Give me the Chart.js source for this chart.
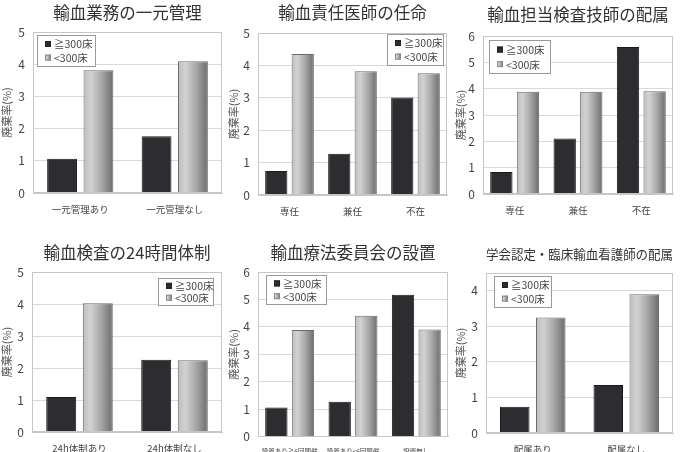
<!DOCTYPE html>
<html>
<head>
<meta charset="utf-8">
<script src="https://cdn.jsdelivr.net/npm/chart.js@4/dist/chart.umd.min.js"></script>
<style>
  html, body { margin: 0; padding: 0; background: #fff; }
  #wrap { position: relative; width: 681px; height: 452px; overflow: hidden; }
  .panel { position: absolute; }
</style>
</head>
<body>
<div id="wrap"></div>
<script>
// data
const seriesNames = ['≧300床', '<300床'];

const titles = [
    '輸血業務の一元管理',
    '輸血責任医師の任命',
    '輸血担当検査技師の配属',
    '輸血検査の24時間体制',
    '輸血療法委員会の設置',
    '学会認定・臨床輸血看護師の配属'
];

const labels1 = ['一元管理あり', '一元管理なし'];
const large1 = [1.06, 1.76];
const small1 = [3.81, 4.09];

const labels2 = ['専任', '兼任', '不在'];
const large2 = [0.74, 1.27, 3.01];
const small2 = [4.35, 3.82, 3.76];

const labels3 = ['専任', '兼任', '不在'];
const large3 = [0.84, 2.11, 5.58];
const small3 = [3.88, 3.88, 3.9];

const labels4 = ['24h体制あり', '24h体制なし'];
const large4 = [1.09, 2.26];
const small4 = [4.02, 2.24];

const labels5 = ['設置あり≧6回開催', '設置あり<6回開催', '設置無し'];
const large5 = [1.07, 1.28, 5.17];
const small5 = [3.89, 4.41, 3.91];

const labels6 = ['配属あり', '配属なし'];
const large6 = [0.74, 1.35];
const small6 = [3.25, 3.9];

const yMax = [5, 5, 6, 5, 6, 4.5];

// layout of each panel (page pixels)
const FONT = "'Noto Sans CJK JP', 'Noto Sans', sans-serif";
const panels = [
    { box: [0, 0, 227, 225],   plot: [33, 222, 32, 193],  titleY: 13, titleSize: 16.5, xFont: 9.5, legend: { side: 'left', dx: 4, dy: 3, w: 58, h: 31 } },
    { box: [227, 0, 227, 225], plot: [258, 447, 33, 195], titleY: 13, titleSize: 16.5, xFont: 9.5, legend: { side: 'right', dx: 4, dy: 1, w: 56, h: 31 } },
    { box: [454, 0, 227, 225], plot: [483, 673, 36, 194], titleY: 15, titleSize: 16.5, xFont: 9.5, legend: { side: 'left', dx: 6, dy: 4, w: 61, h: 33 } },
    { box: [0, 225, 227, 227], plot: [32, 222, 272, 432], titleY: 253, titleSize: 16.5, xFont: 9.5, legend: { side: 'right', dx: 9, dy: 6, w: 55, h: 27 } },
    { box: [227, 225, 227, 227], plot: [258, 448, 272, 437], titleY: 253, titleSize: 16.5, xFont: 6.5, legend: { side: 'left', dx: 8, dy: 3, w: 60, h: 29 } },
    { box: [454, 225, 227, 227], plot: [486, 673, 273, 433], titleY: 254, titleSize: 13, xFont: 9.5, legend: { side: 'left', dx: 8, dy: 3, w: 57, h: 31 } }
];

const allLabels = [labels1, labels2, labels3, labels4, labels5, labels6];
const allLarge = [large1, large2, large3, large4, large5, large6];
const allSmall = [small1, small2, small3, small4, small5, small6];

const DARK = '#2c2c31';

function grayGradient(ctx, x0, x1) {
    const g = ctx.createLinearGradient(x0, 0, x1, 0);
    g.addColorStop(0, '#bdbdbd');
    g.addColorStop(0.25, '#d2d2d2');
    g.addColorStop(0.6, '#a8a8a8');
    g.addColorStop(1, '#6c6c6c');
    return g;
}

// paint the gradient on the light bars
const gradientBars = {
    id: 'gradientBars',
    beforeDatasetDraw(chart, args) {
        if (args.index !== 1) return;
        args.meta.data.forEach(el => {
            const half = el.width / 2;
            el.options.backgroundColor = grayGradient(chart.ctx, el.x - half, el.x + half);
        });
    }
};

// boxed legend inside the plot area
const boxLegend = {
    id: 'boxLegend',
    afterDraw(chart, args, opts) {
        const ctx = chart.ctx;
        const area = chart.chartArea;
        const x = opts.side === 'left' ? area.left + opts.dx : area.right - opts.dx - opts.w;
        const y = area.top + opts.dy;
        ctx.save();
        ctx.fillStyle = '#fff';
        ctx.fillRect(x, y, opts.w, opts.h);
        ctx.strokeStyle = '#9a9a9a';
        ctx.lineWidth = 1;
        ctx.strokeRect(Math.round(x) + 0.5, Math.round(y) + 0.5, opts.w, opts.h);
        ctx.font = '10.5px ' + FONT;
        ctx.textBaseline = 'middle';
        const rows = [y + opts.h * 0.29, y + opts.h * 0.73];
        rows.forEach((cy, i) => {
            const mx = x + 8;
            if (i === 0) {
                ctx.fillStyle = DARK;
            } else {
                ctx.fillStyle = grayGradient(ctx, mx, mx + 6);
            }
            ctx.fillRect(mx, cy - 3, 6, 6);
            ctx.strokeStyle = i === 0 ? '#222' : '#888';
            ctx.strokeRect(mx + 0.5, cy - 3 + 0.5, 5, 5);
            ctx.fillStyle = '#444';
            ctx.fillText(chart.data.datasets[i].label, mx + 9, cy + 0.5);
        });
        ctx.restore();
    }
};

const wrap = document.getElementById('wrap');

panels.forEach((p, i) => {
    const [bx, by, bw, bh] = p.box;
    const [L, R, T, B] = p.plot;
    const div = document.createElement('div');
    div.className = 'panel';
    div.style.left = bx + 'px';
    div.style.top = by + 'px';
    div.style.width = bw + 'px';
    div.style.height = bh + 'px';
    const canvas = document.createElement('canvas');
    div.appendChild(canvas);
    wrap.appendChild(div);

    const xAxisH = 26;
    const titleTop = Math.max(0, p.titleY - by - p.titleSize * 0.6);
    const titleBottom = (T - by) - titleTop - p.titleSize * 1.2;
    const threeCats = allLabels[i].length === 3;

    new Chart(canvas, {
        type: 'bar',
        data: {
            labels: allLabels[i],
            datasets: [
                {
                    label: seriesNames[0],
                    data: allLarge[i],
                    backgroundColor: DARK,
                    borderColor: '#1a1a1a',
                    borderWidth: 1
                },
                {
                    label: seriesNames[1],
                    data: allSmall[i],
                    backgroundColor: () => '#aaaaaa',
                    borderColor: '#6a6a6a',
                    borderWidth: 1
                }
            ]
        },
        options: {
            responsive: true,
            maintainAspectRatio: false,
            animation: false,
            devicePixelRatio: 1,
            categoryPercentage: threeCats ? 0.84 : 0.77,
            barPercentage: threeCats ? 0.84 : 0.82,
            layout: {
                padding: { left: 0, top: 0, right: bx + bw - R, bottom: by + bh - B - xAxisH }
            },
            plugins: {
                legend: { display: false },
                tooltip: { enabled: false },
                title: {
                    display: true,
                    fullSize: false,
                    text: titles[i],
                    color: '#333',
                    font: { family: FONT, size: p.titleSize, weight: 'normal' },
                    padding: { top: titleTop, bottom: titleBottom }
                },
                boxLegend: p.legend
            },
            scales: {
                x: {
                    grid: { display: false, drawTicks: false },
                    border: { display: true, color: '#c6c6c6' },
                    ticks: {
                        color: '#444',
                        padding: 11,
                        maxRotation: 0,
                        autoSkip: false,
                        font: { family: FONT, size: p.xFont }
                    },
                    afterFit: s => { s.height = xAxisH; }
                },
                y: {
                    min: 0,
                    max: yMax[i],
                    grid: { color: '#d9d9d9', drawTicks: false },
                    border: { display: true, color: '#c6c6c6' },
                    ticks: {
                        stepSize: 1,
                        color: '#444',
                        padding: 8,
                        font: { family: FONT, size: 12 },
                        callback: v => (v % 1 === 0 ? v : '')
                    },
                    title: {
                        display: true,
                        text: '廃棄率(%)',
                        color: '#555',
                        font: { family: FONT, size: 11 },
                        padding: { top: 0, bottom: 0 }
                    },
                    afterFit: s => { s.width = L - bx; }
                }
            }
        },
        plugins: [gradientBars, boxLegend, {
            id: 'frame',
            afterDatasetsDraw(chart) {
                const a = chart.chartArea;
                const c = chart.ctx;
                c.save();
                c.strokeStyle = '#c6c6c6';
                c.lineWidth = 1;
                c.strokeRect(Math.round(a.left) + 0.5, Math.round(a.top) + 0.5, Math.round(a.right - a.left) - 1, Math.round(a.bottom - a.top) - 1);
                c.restore();
            }
        }]
    });
});
</script>
</body>
</html>
